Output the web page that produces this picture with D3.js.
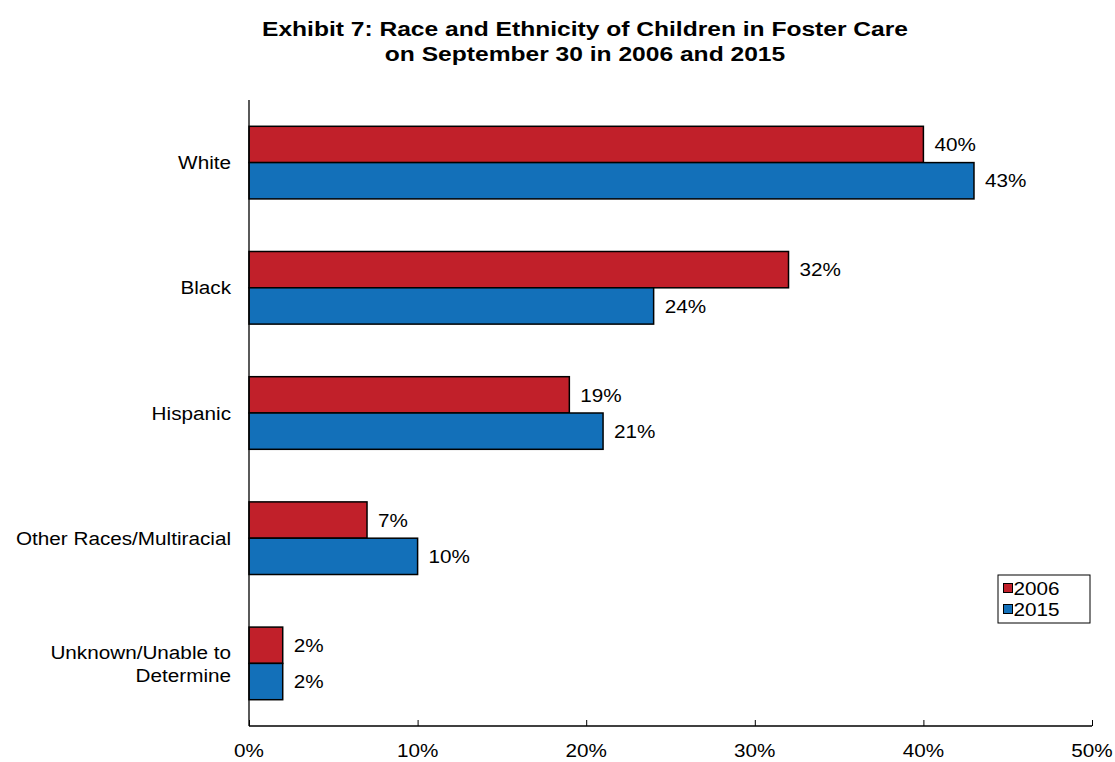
<!DOCTYPE html>
<html>
<head>
<meta charset="utf-8">
<script src="https://cdn.jsdelivr.net/npm/d3@7"></script>
<style>
  html, body { margin: 0; padding: 0; background: #fff; }
  text { font-family: "Liberation Sans", Arial, sans-serif; fill: #000; }
</style>
</head>
<body>
<svg id="chart" width="1115" height="762"></svg>
<script>
// Race/ethnicity shares of children in foster care
const categories = ["White", "Black", "Hispanic", "Other Races/Multiracial", "Unknown/Unable to Determine"];
const categoryLines = [["White"], ["Black"], ["Hispanic"], ["Other Races/Multiracial"], ["Unknown/Unable to", "Determine"]];
const years = ["2006", "2015"];
const values2006 = [40, 32, 19, 7, 2];
const values2015 = [43, 24, 21, 10, 2];
const xTicks = [0, 10, 20, 30, 40, 50];
const colors = ["#C1202A", "#1370B9"];

const svg = d3.select("#chart");
const margin = { left: 249, right: 1092, top: 100, bottom: 726 };

// Text is drawn with a slightly wide letterform: scale horizontally around its anchor
const LABEL_SIZE = 19;
const LABEL_SX = 1.09;
const TITLE_SIZE = 20.5;
const TITLE_SX = 1.2;

function wideText(parent, x, y, str, opts = {}) {
  const g = parent.append("g")
    .attr("transform", `translate(${x},${y}) scale(${opts.sx || LABEL_SX},1)`);
  const t = g.append("text")
    .attr("text-anchor", opts.anchor || "start")
    .attr("dy", opts.dy === undefined ? "0.35em" : opts.dy)
    .style("font-size", (opts.size || LABEL_SIZE) + "px")
    .text(str);
  if (opts.bold) t.style("font-weight", "bold");
  return t;
}

const x = d3.scaleLinear().domain([0, 50]).range([margin.left, margin.right]);
const y = d3.scaleBand().domain(categories).range([margin.top, margin.bottom]).paddingInner(0.42).paddingOuter(0.21);
const ySub = d3.scaleBand().domain(years).range([0, y.bandwidth()]);

// Title
wideText(svg, 585, 36, "Exhibit 7: Race and Ethnicity of Children in Foster Care",
  { anchor: "middle", dy: 0, size: TITLE_SIZE, sx: TITLE_SX, bold: true });
wideText(svg, 585, 61, "on September 30 in 2006 and 2015",
  { anchor: "middle", dy: 0, size: TITLE_SIZE, sx: TITLE_SX, bold: true });

// Bars with value labels
const series = [values2006, values2015];
series.forEach((vals, si) => {
  const g = svg.append("g");
  g.selectAll("rect").data(categories).join("rect")
    .attr("x", x(0))
    .attr("y", (c) => y(c) + ySub(years[si]))
    .attr("width", (c, i) => x(vals[i]) - x(0))
    .attr("height", ySub.bandwidth())
    .attr("fill", colors[si])
    .attr("stroke", "#000")
    .attr("stroke-width", 1.5);
  categories.forEach((c, i) => {
    wideText(g, x(vals[i]) + 11, y(c) + ySub(years[si]) + ySub.bandwidth() / 2, vals[i] + "%");
  });
});

// Axes
const xAxis = d3.axisBottom(x).tickValues(xTicks).tickSize(-6).tickFormat("");
const gx = svg.append("g").attr("transform", `translate(0,${margin.bottom})`).call(xAxis);
gx.select(".domain").attr("d", `M${margin.left},0H${margin.right}`).attr("stroke", "#000").attr("stroke-width", 1.3);
gx.selectAll(".tick line").attr("stroke", "#000");
xTicks.forEach((v) => {
  wideText(svg, x(v), margin.bottom + 24, v + "%", { anchor: "middle" });
});

svg.append("line").attr("x1", margin.left).attr("x2", margin.left)
  .attr("y1", margin.top).attr("y2", margin.bottom)
  .attr("stroke", "#000").attr("stroke-width", 1.3);

// Category labels
categories.forEach((c, i) => {
  const lines = categoryLines[i];
  const cy = y(c) + y.bandwidth() / 2;
  lines.forEach((ln, li) => {
    wideText(svg, 231, cy + (li - (lines.length - 1) / 2) * 23, ln, { anchor: "end" });
  });
});

// Legend
const legend = svg.append("g").attr("transform", "translate(998,575)");
legend.append("rect").attr("width", 92).attr("height", 48)
  .attr("fill", "#fff").attr("stroke", "#000").attr("stroke-width", 1);
years.forEach((yr, i) => {
  const ly = 13 + i * 21;
  legend.append("rect").attr("x", 5.5).attr("y", ly - 4.5).attr("width", 9).attr("height", 9)
    .attr("fill", colors[i]).attr("stroke", "#000").attr("stroke-width", 1);
  wideText(legend, 15.5, ly, yr);
});
</script>
</body>
</html>
